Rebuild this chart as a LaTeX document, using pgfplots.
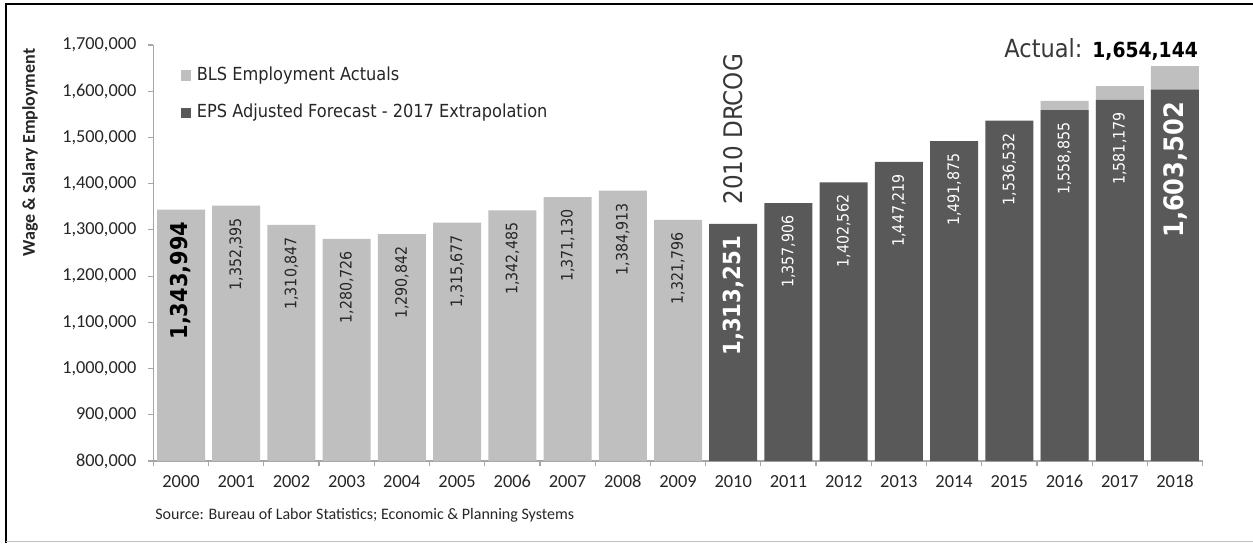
\documentclass[border=0pt]{standalone}
\usepackage{pgfplots}
\pgfplotsset{compat=1.18}
\usepackage{fontspec}
\setmainfont{Carlito}
\newfontfamily\tah[BoldFont={DejaVu Sans Condensed Bold}]{DejaVu Sans Condensed}
\definecolor{lightbar}{HTML}{BFBFBF}
\definecolor{darkbar}{HTML}{595959}
\definecolor{axgray}{HTML}{A6A6A6}
\definecolor{txt}{HTML}{262626}
\definecolor{anno}{HTML}{383838}
\begin{document}
\begin{tikzpicture}
\begin{axis}[
  width=524.6pt, height=208pt, scale only axis,
  clip=false,
  ybar, bar width=24pt, bar shift=0pt,
  xmin=-0.5, xmax=18.5, ymin=800000, ymax=1700000,
  axis x line*=bottom, axis y line*=left,
  axis line style={axgray, line width=0.6pt, -},
  tick style={axgray, line width=0.6pt},
  tick align=outside, major tick length=2.5pt,
  ytick={800000,900000,1000000,1100000,1200000,1300000,1400000,1500000,1600000,1700000},
  scaled y ticks=false,
  /pgf/number format/assume math mode=true,
  yticklabel style={/pgf/number format/fixed, /pgf/number format/precision=0, /pgf/number format/1000 sep={,}, font=\fontsize{9.15}{11}\selectfont, text=txt, xshift=-2.5pt},
  xtick={-0.5,0.5,...,18.5}, xticklabels={},
  extra x ticks={0,1,2,3,4,5,6,7,8,9,10,11,12,13,14,15,16,17,18},
  extra x tick labels={2000,2001,2002,2003,2004,2005,2006,2007,2008,2009,2010,2011,2012,2013,2014,2015,2016,2017,2018},
  extra x tick style={tick style={draw=none}, tick label style={font=\fontsize{9.2}{11}\selectfont, text=txt, yshift=-1pt}},
  ylabel={Wage \& Salary Employment},
  ylabel style={at={(axis description cs:-0.1176,0.7416)}, anchor=center, font=\bfseries\fontsize{9}{11}\selectfont, text=txt},
  legend style={at={(rel axis cs:0.0258,0.952)}, anchor=north west, draw=none, fill=none, inner sep=0pt,
    font=\tah\fontsize{9}{11}\selectfont, text=txt, row sep=8.8pt,
    nodes={text height=6.5pt, text depth=1.5pt, inner sep=1pt}},
  legend cell align=left,
  legend image code/.code={\fill[#1] (0pt,-2.6pt) rectangle (5.2pt,2.6pt);},
]
\addplot[fill=lightbar, draw=none] table[x=x, y=y] {
x y
0 1343994
1 1352395
2 1310847
3 1280726
4 1290842
5 1315677
6 1342485
7 1371130
8 1384913
9 1321796
16 1579000
17 1611000
18 1654144
};
\addlegendentry{\hspace{1.8pt}BLS Employment Actuals}
\addplot[fill=darkbar, draw=none] table[x=x, y=y] {
x y
10 1313251
11 1357906
12 1402562
13 1447219
14 1491875
15 1536532
16 1558855
17 1581179
18 1603502
};
\addlegendentry{\hspace{1.8pt}EPS Adjusted Forecast - 2017 Extrapolation}
% small labels on light bars
\addplot[forget plot, draw=none, fill=none, nodes near coords, point meta=explicit symbolic,
  nodes near coords style={rotate=90, anchor=east, inner xsep=6pt, inner ysep=0pt, font=\tah\fontsize{7.9}{9}\selectfont, text=txt}]
  table[x=x, y=y, meta=l] {
x y l
1 1352395 1,352,395
2 1310847 1,310,847
3 1280726 1,280,726
4 1290842 1,290,842
5 1315677 1,315,677
6 1342485 1,342,485
7 1371130 1,371,130
8 1384913 1,384,913
9 1321796 1,321,796
};
% big label 2000
\addplot[forget plot, draw=none, fill=none, nodes near coords, point meta=explicit symbolic,
  nodes near coords style={rotate=90, anchor=east, inner xsep=6pt, inner ysep=0pt, font=\tah\bfseries\fontsize{11.6}{13}\selectfont, text=black}]
  table[x=x, y=y, meta=l] {
x y l
0 1343994 1,343,994
};
% small labels on dark bars
\addplot[forget plot, draw=none, fill=none, nodes near coords, point meta=explicit symbolic,
  nodes near coords style={rotate=90, anchor=east, inner xsep=6pt, inner ysep=0pt, font=\tah\fontsize{7.9}{9}\selectfont, text=white}]
  table[x=x, y=y, meta=l] {
x y l
11 1357906 1,357,906
12 1402562 1,402,562
13 1447219 1,447,219
14 1491875 1,491,875
15 1536532 1,536,532
16 1558855 1,558,855
17 1581179 1,581,179
};
% big labels 2010
\addplot[forget plot, draw=none, fill=none, nodes near coords, point meta=explicit symbolic,
  nodes near coords style={rotate=90, anchor=east, inner xsep=6pt, inner ysep=0pt, font=\tah\bfseries\fontsize{11.8}{13}\selectfont, text=white}]
  table[x=x, y=y, meta=l] {
x y l
10 1313251 1,313,251
};
% big label 2018
\addplot[forget plot, draw=none, fill=none, nodes near coords, point meta=explicit symbolic,
  nodes near coords style={rotate=90, anchor=east, inner xsep=6pt, inner ysep=0pt, font=\tah\bfseries\fontsize{13.4}{15}\selectfont, text=white}]
  table[x=x, y=y, meta=l] {
x y l
18 1603502 1,603,502
};
\node[anchor=west, rotate=90, inner sep=0pt, font=\tah\fontsize{12.8}{14}\selectfont, text=anno] at (axis cs:10,1354000) {2010 DRCOG};
\node[anchor=base east, inner sep=0pt] at (axis cs:18.42,1674000) {{\tah\fontsize{12.5}{14}\selectfont\color{anno}Actual:}\hspace{5pt}{\tah\bfseries\fontsize{10.4}{12}\selectfont\color{black}1,654,144}};
\node[anchor=west, inner sep=0pt, font=\fontsize{8}{10}\selectfont, text=txt] at (rel axis cs:0.0015,-0.1298) {Source: Bureau of Labor Statistics; Economic \& Planning Systems};
\coordinate (O) at (rel axis cs:0,0);
\end{axis}
\begin{scope}[shift={(O)}]
\path[use as bounding box] (-76.7pt,-41pt) rectangle (549.8pt,230.5pt);
\draw[black, line width=1pt] (-73.7pt,-41pt) -- (-73.7pt,228.75pt) -- (549.8pt,228.75pt);
\draw[black!25, line width=0.6pt] (-73.7pt,-40.2pt) -- (549.8pt,-40.2pt);
\end{scope}
\end{tikzpicture}
\end{document}
